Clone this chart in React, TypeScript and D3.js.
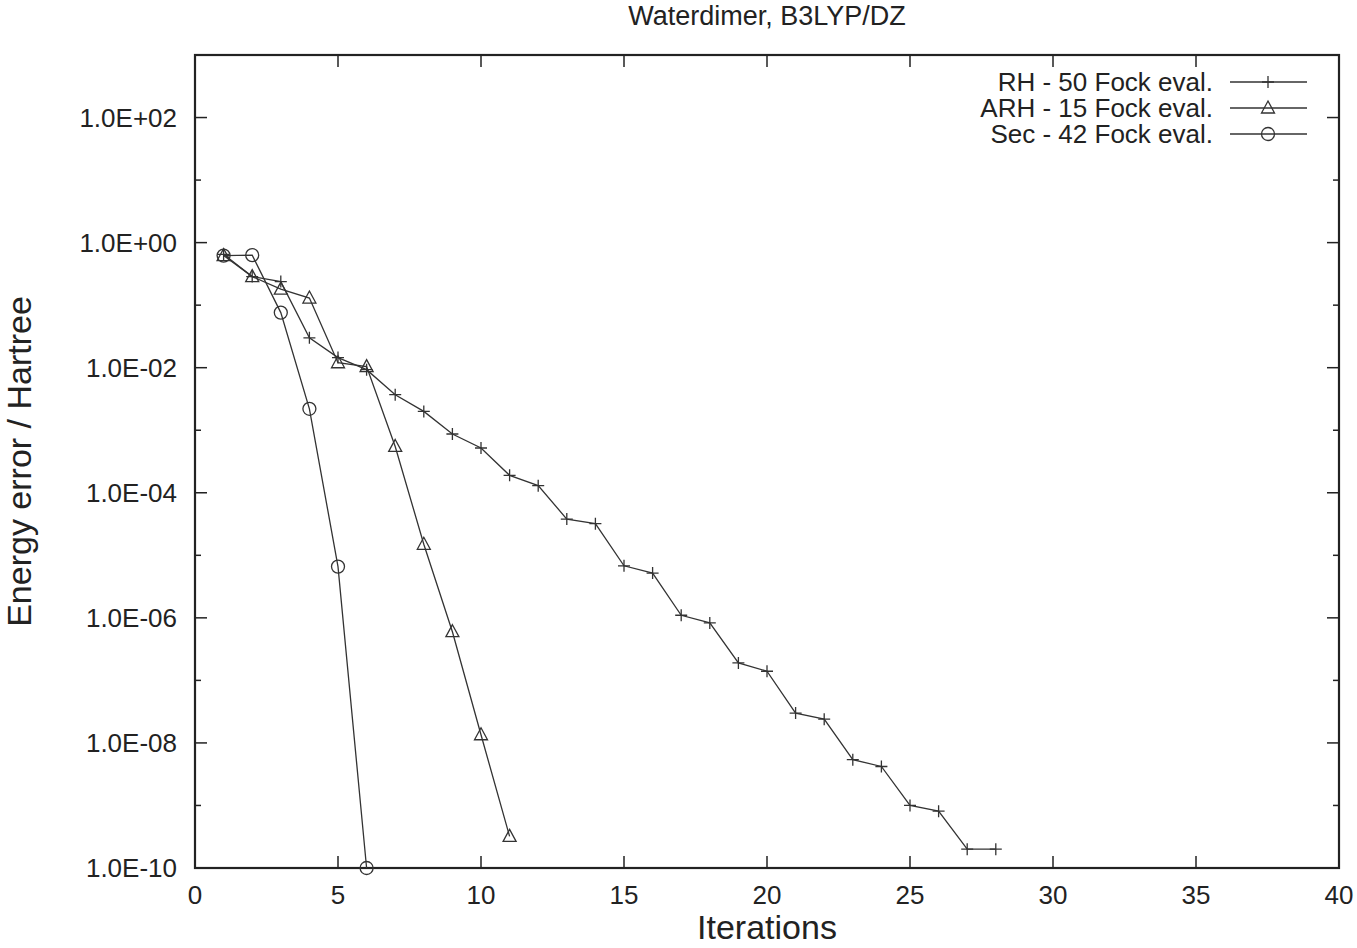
import React from 'react';
import * as d3 from 'd3';

// iteration numbers and energy errors (Hartree)
const rhIter = d3.range(1, 29);
const rhErr = [0.65, 0.286, 0.238, 0.030, 0.0145, 0.0093, 0.0037, 0.0020, 8.7e-4, 5.2e-4,
  1.9e-4, 1.3e-4, 3.8e-5, 3.2e-5, 6.8e-6, 5.2e-6, 1.1e-6, 8.3e-7, 1.9e-7, 1.4e-7,
  3.0e-8, 2.4e-8, 5.4e-9, 4.2e-9, 1.0e-9, 8.1e-10, 2.0e-10, 2.0e-10];
const arhIter = d3.range(1, 12);
const arhErr = [0.62, 0.286, 0.18, 0.13, 0.012, 0.0104, 5.5e-4, 1.5e-5, 6.0e-7, 1.35e-8, 3.2e-10];
const secIter = d3.range(1, 7);
const secErr = [0.62, 0.63, 0.076, 2.2e-3, 6.6e-6, 1e-10];

const seriesNames = ['RH - 50 Fock eval.', 'ARH - 15 Fock eval.', 'Sec - 42 Fock eval.'];
const xTicks = [0, 5, 10, 15, 20, 25, 30, 35, 40];
const yExponents = d3.range(-10, 4);

const title = 'Waterdimer, B3LYP/DZ';
const xTitle = 'Iterations';
const yTitle = 'Energy error / Hartree';

const W = 1357, H = 948;
const m = { left: 195, right: 1339, top: 55, bottom: 868 };
const font = '"Liberation Sans", Arial, Helvetica, sans-serif';
const ink = '#222';
const lineCol = '#333';

const fmtExp = (e: number) =>
  `1.0E${e >= 0 ? '+' : '-'}${String(Math.abs(e)).padStart(2, '0')}`;

function Marker({ kind, x, y }: { kind: string; x: number; y: number }) {
  if (kind === 'plus') {
    return <path d={`M${x - 6},${y}H${x + 6}M${x},${y - 6}V${y + 6}`} stroke={lineCol} strokeWidth={1.3} fill="none" />;
  }
  if (kind === 'tri') {
    return <path d={`M${x},${y - 7}L${x + 6.5},${y + 5}L${x - 6.5},${y + 5}Z`} stroke={lineCol} strokeWidth={1.3} fill="none" />;
  }
  return <circle cx={x} cy={y} r={6.5} stroke={lineCol} strokeWidth={1.3} fill="none" />;
}

export default function App() {
  const x = d3.scaleLinear().domain([0, 40]).range([m.left, m.right]);
  const y = d3.scaleLog().domain([1e-10, 1e3]).range([m.bottom, m.top]);
  const line = d3.line<[number, number]>().x(d => x(d[0])).y(d => y(d[1]));

  const series = [
    { name: seriesNames[0], kind: 'plus', pts: rhIter.map((v, i) => [v, rhErr[i]] as [number, number]) },
    { name: seriesNames[1], kind: 'tri', pts: arhIter.map((v, i) => [v, arhErr[i]] as [number, number]) },
    { name: seriesNames[2], kind: 'circ', pts: secIter.map((v, i) => [v, secErr[i]] as [number, number]) },
  ];

  return (
    <svg width={W} height={H} style={{ position: 'absolute', left: 0, top: 0, background: '#fff' }}
      fontFamily={font}>
      <rect width={W} height={H} fill="#fff" />
      <text x={(m.left + m.right) / 2} y={25} textAnchor="middle" fontSize={27} fill={ink}>{title}</text>

      {/* y ticks, mirrored on the right */}
      {yExponents.map(e => {
        const yy = y(Math.pow(10, e));
        const major = e % 2 === 0;
        const len = major ? 12 : 6;
        return (
          <g key={e}>
            <line x1={m.left} x2={m.left + len} y1={yy} y2={yy} stroke={ink} strokeWidth={1.5} />
            <line x1={m.right} x2={m.right - len} y1={yy} y2={yy} stroke={ink} strokeWidth={1.5} />
            {major && e <= 2 && (
              <text x={177} y={yy + 9} textAnchor="end" fontSize={26} fill={ink}>{fmtExp(e)}</text>
            )}
          </g>
        );
      })}

      {/* x ticks, mirrored on top */}
      {xTicks.map(t => (
        <g key={t}>
          <line x1={x(t)} x2={x(t)} y1={m.bottom} y2={m.bottom - 12} stroke={ink} strokeWidth={1.5} />
          <line x1={x(t)} x2={x(t)} y1={m.top} y2={m.top + 12} stroke={ink} strokeWidth={1.5} />
          <text x={x(t)} y={904} textAnchor="middle" fontSize={26} fill={ink}>{t}</text>
        </g>
      ))}

      <rect x={m.left} y={m.top} width={m.right - m.left} height={m.bottom - m.top}
        fill="none" stroke={ink} strokeWidth={2.2} />

      {series.map(s => (
        <g key={s.name}>
          <path d={line(s.pts) || ''} fill="none" stroke={lineCol} strokeWidth={1.3} />
          {s.pts.map((p, i) => <Marker key={i} kind={s.kind} x={x(p[0])} y={y(p[1])} />)}
        </g>
      ))}

      {/* legend */}
      {series.map((s, i) => {
        const ly = 82 + i * 26;
        return (
          <g key={s.name}>
            <text x={1213} y={ly + 9} textAnchor="end" fontSize={26} fill={ink}>{s.name}</text>
            <line x1={1230} x2={1307} y1={ly} y2={ly} stroke={lineCol} strokeWidth={1.3} />
            <Marker kind={s.kind} x={1268} y={ly} />
          </g>
        );
      })}

      <text x={(m.left + m.right) / 2} y={939} textAnchor="middle" fontSize={34} fill={ink}>{xTitle}</text>
      <text transform={`translate(31,${(m.top + m.bottom) / 2}) rotate(-90)`} textAnchor="middle"
        fontSize={34} fill={ink}>{yTitle}</text>
    </svg>
  );
}
